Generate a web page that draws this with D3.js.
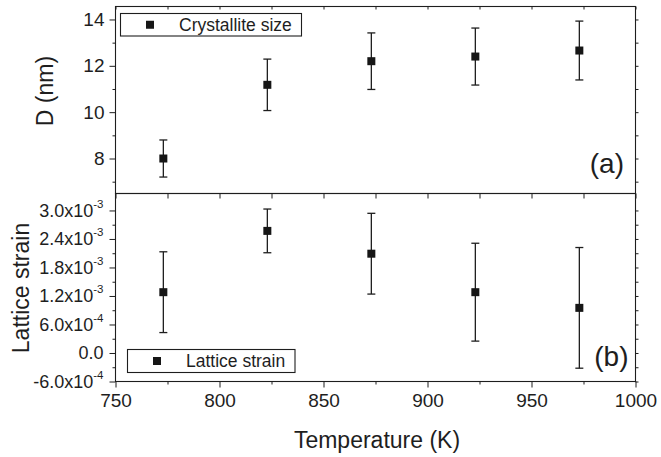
<!DOCTYPE html>
<html>
<head>
<meta charset="utf-8">
<script src="https://cdn.jsdelivr.net/npm/d3@7"></script>
<style>
  html, body { margin: 0; padding: 0; background: #fff; }
  svg { display: block; }
  text { font-family: "Liberation Sans", Arial, Helvetica, sans-serif; fill: #1e1e1e; }
</style>
</head>
<body>
<svg id="chart" width="661" height="457"></svg>
<script>
// Annealing temperatures (K)
const temps = [773, 823, 873, 923, 973];
// Crystallite size D (nm) and its error
const sizeVals = [8.0, 11.18, 12.2, 12.4, 12.66];
const sizeErr = [0.8, 1.11, 1.22, 1.23, 1.27];
// Lattice strain and its error
const strainVals = [1.28e-3, 2.57e-3, 2.09e-3, 1.28e-3, 0.95e-3];
const strainErr = [0.85e-3, 0.46e-3, 0.85e-3, 1.03e-3, 1.27e-3];

// Axis ticks and labels
const xTicks = [750, 800, 850, 900, 950, 1000];
const xMinorTicks = [775, 825, 875, 925, 975];
const sizeTicks = [8, 10, 12, 14];
const sizeMinorTicks = [7, 9, 11, 13];
const strainTicks = [-6e-4, 0, 6e-4, 1.2e-3, 1.8e-3, 2.4e-3, 3.0e-3];
const strainMinorTicks = [-3e-4, 3e-4, 9e-4, 1.5e-3, 2.1e-3, 2.7e-3];
const strainTickLabels = [
  ["-6.0x10", "-4"], ["0.0", ""], ["6.0x10", "-4"], ["1.2x10", "-3"],
  ["1.8x10", "-3"], ["2.4x10", "-3"], ["3.0x10", "-3"]
];

const svg = d3.select("#chart");
const ink = "#1e1e1e";

const left = 115.5, right = 635.5;
const topA = 6.5, botA = 193.5;
const topB = 193.5, botB = 381.5;

const x = d3.scaleLinear().domain([750, 1000]).range([left, right]);
const yA = d3.scaleLinear().domain([6.49, 14.56]).range([botA, topA]);
const yB = d3.scaleLinear().domain([-6e-4, 3.357e-3]).range([botB, topB]);

function styleAxis(g) {
  g.select(".domain").remove();
  g.selectAll("line").attr("stroke", ink).attr("stroke-width", 1);
  g.selectAll("text").attr("fill", ink);
}

function panel(y, top, bot, opts) {
  const g = svg.append("g");
  // frame
  g.append("rect")
    .attr("x", left).attr("y", top)
    .attr("width", right - left).attr("height", bot - top)
    .attr("fill", "none").attr("stroke", ink).attr("stroke-width", 1.1);

  // left axis: major + minor outward
  g.append("g").attr("transform", `translate(${left},0)`)
    .call(d3.axisLeft(y).tickValues(opts.major).tickSize(6).tickPadding(5).tickFormat(opts.fmt || null))
    .call(styleAxis)
    .call(a => a.selectAll("text").style("font-size", opts.tickFont + "px"));
  g.append("g").attr("transform", `translate(${left},0)`)
    .call(d3.axisLeft(y).tickValues(opts.minor).tickSize(3).tickFormat(""))
    .call(styleAxis);

  // right axis: short outward ticks
  g.append("g").attr("transform", `translate(${right},0)`)
    .call(d3.axisRight(y).tickValues(opts.major.concat(opts.minor)).tickSize(3).tickFormat(""))
    .call(styleAxis);
  return g;
}

// ---------- Panel (a): crystallite size ----------
const gA = panel(yA, topA, botA, { major: sizeTicks, minor: sizeMinorTicks, tickFont: 19 });
// top ticks
gA.append("g").attr("transform", `translate(0,${topA})`)
  .call(d3.axisBottom(x).tickValues(xTicks.concat(xMinorTicks)).tickSize(3).tickFormat(""))
  .call(styleAxis);

// ---------- Panel (b): lattice strain ----------
const gB = panel(yB, topB, botB, { major: strainTicks, minor: strainMinorTicks, tickFont: 18, fmt: () => "" });
// strain tick labels with superscript exponents
gB.append("g").selectAll("text.slab")
  .data(strainTicks)
  .join("text")
  .attr("class", "slab")
  .attr("x", left - 12)
  .attr("y", d => yB(d))
  .attr("dy", "0.35em")
  .attr("text-anchor", "end")
  .style("font-size", "18px")
  .each(function(d, i) {
    const t = d3.select(this);
    const lab = strainTickLabels[i];
    t.append("tspan").text(lab[0]);
    if (lab[1]) {
      t.append("tspan").text(lab[1]).attr("dy", -9).style("font-size", "11.5px");
    }
  });

// divider ticks (pointing down into panel b)
gB.append("g").attr("transform", `translate(0,${topB})`)
  .call(d3.axisBottom(x).tickValues(xTicks.concat(xMinorTicks)).tickSize(5).tickFormat(""))
  .call(styleAxis);

// bottom axis
gB.append("g").attr("transform", `translate(0,${botB})`)
  .call(d3.axisBottom(x).tickValues(xTicks).tickSize(6).tickPadding(6).tickFormat(d3.format("d")))
  .call(styleAxis)
  .call(a => a.selectAll("text").style("font-size", "19px"));
gB.append("g").attr("transform", `translate(0,${botB})`)
  .call(d3.axisBottom(x).tickValues(xMinorTicks).tickSize(3).tickFormat(""))
  .call(styleAxis);

// ---------- data marks ----------
function drawSeries(vals, errs, y) {
  const g = svg.append("g");
  const data = temps.map((t, i) => ({ t, v: vals[i], e: errs[i] }));
  const cap = 4;
  g.selectAll("line.err").data(data).join("line")
    .attr("x1", d => x(d.t)).attr("x2", d => x(d.t))
    .attr("y1", d => y(d.v - d.e)).attr("y2", d => y(d.v + d.e))
    .attr("stroke", ink).attr("stroke-width", 1.3);
  g.selectAll("line.capTop").data(data).join("line")
    .attr("x1", d => x(d.t) - cap).attr("x2", d => x(d.t) + cap)
    .attr("y1", d => y(d.v + d.e)).attr("y2", d => y(d.v + d.e))
    .attr("stroke", ink).attr("stroke-width", 1.3);
  g.selectAll("line.capBot").data(data).join("line")
    .attr("x1", d => x(d.t) - cap).attr("x2", d => x(d.t) + cap)
    .attr("y1", d => y(d.v - d.e)).attr("y2", d => y(d.v - d.e))
    .attr("stroke", ink).attr("stroke-width", 1.3);
  g.selectAll("rect.pt").data(data).join("rect")
    .attr("x", d => x(d.t) - 4).attr("y", d => y(d.v) - 4)
    .attr("width", 8).attr("height", 8)
    .attr("fill", "#161616");
}
drawSeries(sizeVals, sizeErr, yA);
drawSeries(strainVals, strainErr, yB);

// ---------- legends ----------
function legend(bx, by, bw, bh, label) {
  const g = svg.append("g");
  g.append("rect").attr("x", bx).attr("y", by).attr("width", bw).attr("height", bh)
    .attr("fill", "#fff").attr("stroke", ink).attr("stroke-width", 1.1);
  g.append("rect").attr("x", bx + 29.5 - 4).attr("y", by + bh / 2 - 4)
    .attr("width", 8).attr("height", 8).attr("fill", "#161616");
  g.append("text").attr("x", bx + 58.5).attr("y", by + bh / 2).attr("dy", "0.36em")
    .style("font-size", "17.5px").text(label);
}
legend(120.5, 13.5, 181, 22.5, "Crystallite size");
legend(127.5, 349.5, 167.5, 23, "Lattice strain");

// ---------- panel tags ----------
svg.append("text").attr("x", 624).attr("y", 173).attr("text-anchor", "end")
  .style("font-size", "28px").text("(a)");
svg.append("text").attr("x", 628.5).attr("y", 365.5).attr("text-anchor", "end")
  .style("font-size", "28px").text("(b)");

// ---------- axis titles ----------
svg.append("text")
  .attr("transform", "translate(53,91) rotate(-90)")
  .attr("text-anchor", "middle").style("font-size", "23px").text("D (nm)");
svg.append("text")
  .attr("transform", "translate(29,288) rotate(-90)")
  .attr("text-anchor", "middle").style("font-size", "23px").text("Lattice strain");
svg.append("text")
  .attr("x", 377).attr("y", 448)
  .attr("text-anchor", "middle").style("font-size", "23px").text("Temperature (K)");
</script>
</body>
</html>
